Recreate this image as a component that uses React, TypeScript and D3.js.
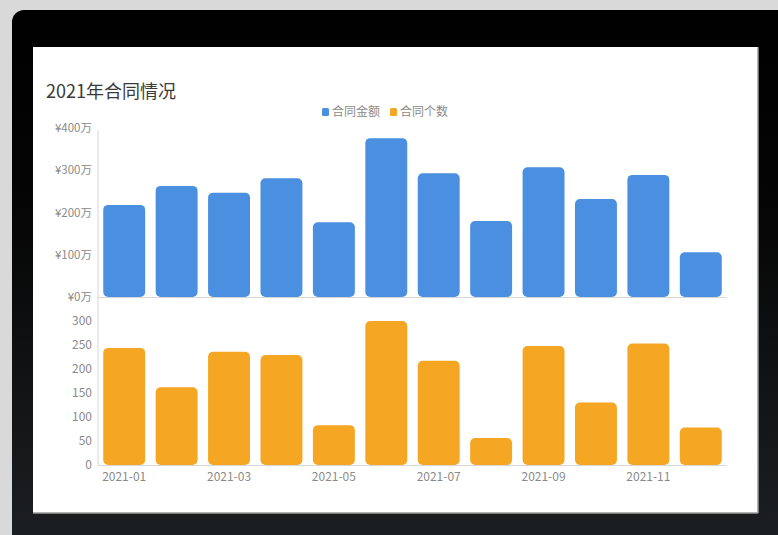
import React from 'react';
import * as d3 from 'd3';

const months = ['2021-01','2021-02','2021-03','2021-04','2021-05','2021-06','2021-07','2021-08','2021-09','2021-10','2021-11','2021-12'];
const amounts = [218, 263, 247, 281, 177, 376, 293, 180, 307, 232, 289, 106];
const counts = [244, 162, 236, 229, 83, 300, 217, 56, 248, 130, 253, 78];
const amountTicks = [0, 100, 200, 300, 400];
const countTicks = [0, 50, 100, 150, 200, 250, 300];
const title = '2021年合同情况';
const legendNames = ['合同金额', '合同个数'];

const BLUE = '#4a8fe0';
const ORANGE = '#f5a623';
const FONT = '"Noto Sans CJK SC", "Noto Sans", sans-serif';

export default function App() {
  const x = d3.scaleBand<string>().domain(months).range([98, 727]).paddingInner(0.2).paddingOuter(0.1);
  const yTop = d3.scaleLinear().domain([0, 400]).range([297, 128]);
  const yBot = d3.scaleLinear().domain([0, 300]).range([465, 321]);
  const labelColor = '#8a8a8a';
  return (
    <svg width={778} height={535} style={{ position: 'absolute', left: 0, top: 0 }} fontFamily={FONT}>
      <defs>
        <linearGradient id="frameGrad" x1="0" y1="0" x2="0" y2="1">
          <stop offset="0" stopColor="#000000" />
          <stop offset="0.35" stopColor="#050505" />
          <stop offset="1" stopColor="#1e2124" />
        </linearGradient>
      </defs>
      <rect x={0} y={0} width={778} height={535} fill="#d9d9d9" />
      <rect x={12} y={10} width={790} height={560} rx={12} fill="url(#frameGrad)" />
      <rect x={33} y={47} width={725} height={466} fill="#ffffff" />
      <line x1={33} x2={758} y1={513} y2={513} stroke="#9a9a9a" strokeWidth={1.5} />
      <line x1={758} x2={758} y1={47} y2={513} stroke="#9a9a9a" strokeWidth={1.5} />

      <text x={46} y={98} fontSize={18} fill="#3a3a3a">{title}</text>

      {/* legend */}
      <g fontSize={12} fill={labelColor}>
        <rect x={322} y={108} width={7} height={8} rx={1.5} fill={BLUE} />
        <text x={332} y={116}>{legendNames[0]}</text>
        <rect x={390} y={108} width={7} height={8} rx={1.5} fill={ORANGE} />
        <text x={400} y={116}>{legendNames[1]}</text>
      </g>

      {/* top chart */}
      <line x1={98} x2={98} y1={130} y2={465} stroke="#d6d6d6" />
      {amountTicks.map(t => (
        <text key={'a' + t} x={92} y={yTop(t)} dy="0.35em" textAnchor="end" fontSize={11.5} fill={labelColor}>{'¥' + t + '万'}</text>
      ))}
      {months.map((m, i) => (
        <rect key={'b' + m} x={x(m)} y={yTop(amounts[i])} width={x.bandwidth()} height={yTop(0) - yTop(amounts[i])} rx={5} fill={BLUE} />
      ))}
      <line x1={98} x2={727} y1={297.5} y2={297.5} stroke="#d6d6d6" />

      {/* bottom chart */}
      {countTicks.map(t => (
        <text key={'c' + t} x={92} y={yBot(t)} dy="0.35em" textAnchor="end" fontSize={12} fill={labelColor}>{t}</text>
      ))}
      {months.map((m, i) => (
        <rect key={'o' + m} x={x(m)} y={yBot(counts[i])} width={x.bandwidth()} height={yBot(0) - yBot(counts[i])} rx={5} fill={ORANGE} />
      ))}
      <line x1={98} x2={727} y1={465.5} y2={465.5} stroke="#d6d6d6" />
      {months.map((m, i) => i % 2 === 0 ? (
        <text key={'x' + m} x={(x(m) as number) + x.bandwidth() / 2} y={481} textAnchor="middle" fontSize={12} fill={labelColor}>{m}</text>
      ) : null)}
    </svg>
  );
}
